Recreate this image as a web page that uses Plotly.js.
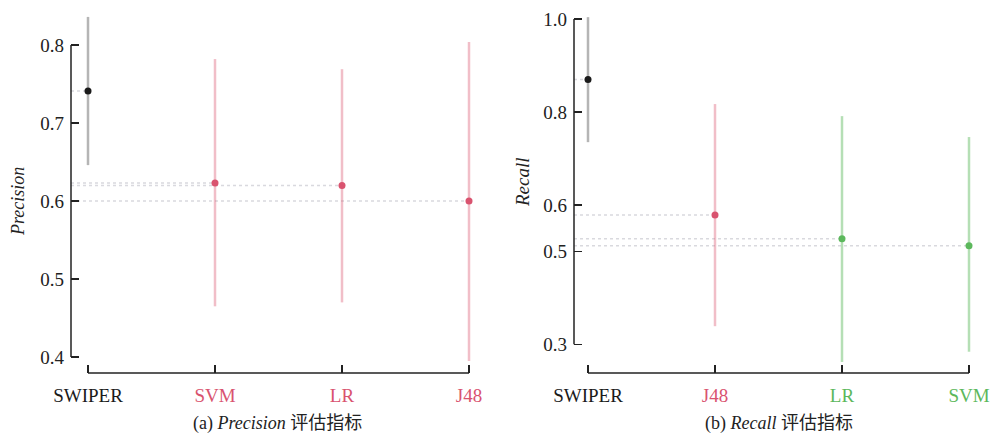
<!DOCTYPE html>
<html>
<head>
<meta charset="utf-8">
<script src="https://cdn.plot.ly/plotly-3.0.1.min.js"></script>
<style>
html,body{margin:0;padding:0;background:#fff;}
#chart{width:992px;height:436px;}
#chart svg text{font-family:"Liberation Serif","Noto Sans CJK SC",serif !important;}
</style>
</head>
<body>
<div id="chart"></div>
<script>
// ---- data ----
var precCats = ['SWIPER', 'SVM', 'LR', 'J48'];
var precMean = [0.741, 0.623, 0.620, 0.600];
var precLow  = [0.646, 0.465, 0.470, 0.395];
var precHigh = [0.836, 0.782, 0.769, 0.804];
var precTicks = [0.4, 0.5, 0.6, 0.7, 0.8];

var recCats = ['SWIPER', 'J48', 'LR', 'SVM'];
var recMean = [0.870, 0.578, 0.527, 0.512];
var recLow  = [0.735, 0.339, 0.262, 0.284];
var recHigh = [1.004, 0.817, 0.791, 0.746];
var recTicks = [0.3, 0.5, 0.6, 0.8, 1.0];

// ---- styles ----
var BLACK = '#1a1a1a', PINK = '#d9536f', GREEN = '#5cb85c';
var barCol = {};
barCol[BLACK] = 'rgba(60,60,60,0.38)';
barCol[PINK] = 'rgba(217,83,111,0.38)';
barCol[GREEN] = 'rgba(92,184,92,0.45)';
var precColors = [BLACK, PINK, PINK, PINK];
var recColors = [BLACK, PINK, GREEN, GREEN];

var PW = 992, PH = 436;
var SERIF = 'Liberation Serif';

function buildPanel(cats, mean, low, high, colors, xa, ya, xmin) {
  var traces = [];
  for (var i = 0; i < cats.length; i++) {
    traces.push({
      x: [xmin, i], y: [mean[i], mean[i]], xaxis: xa, yaxis: ya,
      mode: 'lines', hoverinfo: 'skip',
      line: {color: 'rgba(185,185,195,0.55)', width: 1.5, dash: 'dot'}
    });
  }
  for (var j = 0; j < cats.length; j++) {
    traces.push({
      x: [j], y: [mean[j]], xaxis: xa, yaxis: ya, mode: 'markers', name: cats[j],
      marker: {color: colors[j], size: 7},
      error_y: {type: 'data', symmetric: false,
        array: [high[j] - mean[j]], arrayminus: [mean[j] - low[j]],
        color: barCol[colors[j]], thickness: 2.5, width: 0}
    });
  }
  return traces;
}
function tickText(cats, colors) {
  return cats.map(function (c, i) { return '<span style="color:' + colors[i] + '">' + c + '</span>'; });
}

// pixel geometry of the two panels
var geoL = {x0: 71, x1: 485, cat0: 88, step: 127, ytop: 10, ybot: 373, vA: 0.8, pA: 45, vB: 0.4, pB: 357};
var geoR = {x0: 574, x1: 990, cat0: 588, step: 127, ytop: 10, ybot: 373, vA: 1.0, pA: 19, vB: 0.3, pB: 344.3};
function xr(g) { return [(g.x0 - g.cat0) / g.step, (g.x1 - g.cat0) / g.step]; }
function yr(g) {
  var s = (g.vA - g.vB) / (g.pB - g.pA);
  return [g.vB - (g.ybot - g.pB) * s, g.vA + (g.pA - g.ytop) * s];
}

var data = buildPanel(precCats, precMean, precLow, precHigh, precColors, 'x', 'y', xr(geoL)[0])
  .concat(buildPanel(recCats, recMean, recLow, recHigh, recColors, 'x2', 'y2', xr(geoR)[0]));

function mkX(g, cats, colors, anchor) {
  return {domain: [g.x0 / PW, g.x1 / PW], range: xr(g), anchor: anchor,
    tickmode: 'array', tickvals: [0, 1, 2, 3], ticktext: tickText(cats, colors),
    ticks: 'inside', ticklen: 8, tickwidth: 1.5, tickcolor: '#222',
    showgrid: false, zeroline: false, showline: false, ticklabelstandoff: 9,
    tickfont: {family: SERIF, size: 19, color: '#222'}};
}
function mkY(g, ticks, anchor) {
  return {domain: [1 - g.ybot / PH, 1 - g.ytop / PH], range: yr(g), anchor: anchor,
    tickmode: 'array', tickvals: ticks, tickformat: '.1f',
    ticks: 'inside', ticklen: 8, tickwidth: 1.5, tickcolor: '#222',
    showgrid: false, zeroline: false, showline: false, ticklabelstandoff: 6,
    tickfont: {family: SERIF, size: 19, color: '#222'}};
}

var layout = {
  width: PW, height: PH, margin: {l: 0, r: 0, t: 0, b: 0},
  paper_bgcolor: '#fff', plot_bgcolor: '#fff', showlegend: false,
  font: {family: SERIF, color: '#222'},
  xaxis: mkX(geoL, precCats, precColors, 'y'),
  yaxis: mkY(geoL, precTicks, 'x'),
  xaxis2: mkX(geoR, recCats, recColors, 'y2'),
  yaxis2: mkY(geoR, recTicks, 'x2'),
  shapes: [
    {type: 'line', xref: 'x domain', yref: 'y', x0: 0, x1: 0, y0: precTicks[0], y1: precTicks[precTicks.length - 1], line: {color: '#222', width: 1.5}},
    {type: 'line', xref: 'x', yref: 'y domain', x0: 0, x1: precCats.length - 1, y0: 0, y1: 0, line: {color: '#222', width: 1.5}},
    {type: 'line', xref: 'x2 domain', yref: 'y2', x0: 0, x1: 0, y0: recTicks[0], y1: recTicks[recTicks.length - 1], line: {color: '#222', width: 1.5}},
    {type: 'line', xref: 'x2', yref: 'y2 domain', x0: 0, x1: recCats.length - 1, y0: 0, y1: 0, line: {color: '#222', width: 1.5}}
  ],
  annotations: [
    {text: '<i>Precision</i>', xref: 'paper', yref: 'paper', x: 18 / PW, y: 1 - 202 / PH, textangle: -90, showarrow: false,
      font: {family: SERIF, size: 18, color: '#222'}, xanchor: 'center', yanchor: 'middle'},
    {text: '<i>Recall</i>', xref: 'paper', yref: 'paper', x: 522 / PW, y: 1 - 182 / PH, textangle: -90, showarrow: false,
      font: {family: SERIF, size: 19, color: '#222'}, xanchor: 'center', yanchor: 'middle'},
    {text: '(a) <i>Precision</i> 评估指标', xref: 'paper', yref: 'paper', x: 277 / PW, y: 1 - 423 / PH, showarrow: false,
      font: {family: SERIF, size: 18, color: '#222'}, xanchor: 'center', yanchor: 'middle'},
    {text: '(b) <i>Recall</i> 评估指标', xref: 'paper', yref: 'paper', x: 779 / PW, y: 1 - 423 / PH, showarrow: false,
      font: {family: SERIF, size: 18, color: '#222'}, xanchor: 'center', yanchor: 'middle'}
  ]
};

Plotly.newPlot('chart', data, layout, {staticPlot: true, displayModeBar: false});
</script>
</body>
</html>
